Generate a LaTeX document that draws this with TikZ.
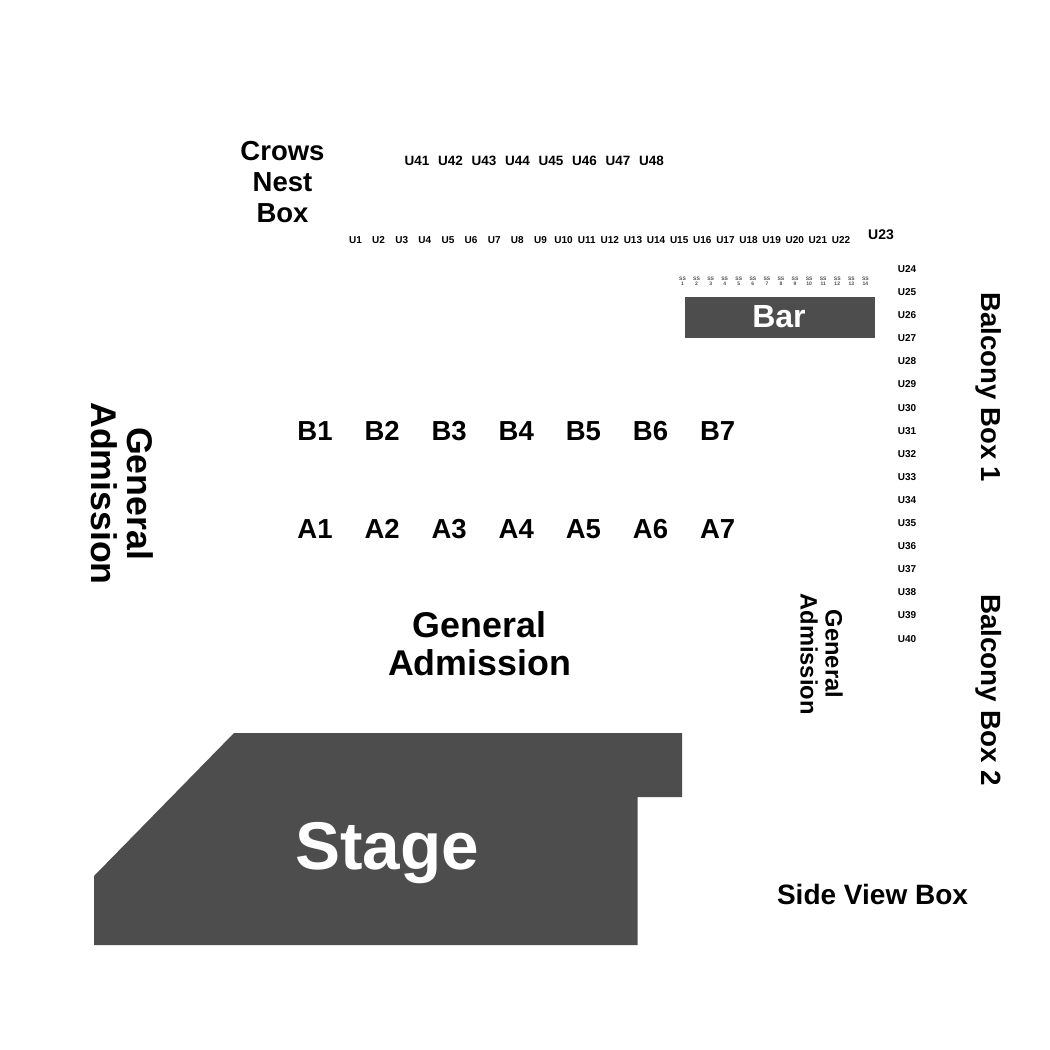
\documentclass[tikz,border=0pt]{standalone}
\usepackage{fontspec}
\setmainfont{Liberation Sans}
\definecolor{blk}{HTML}{4D4D4D}
\newcommand{\tx}[1]{\fontsize{#1}{#1}\selectfont\bfseries}
\newcommand{\txl}[2]{\fontsize{#1}{#2}\selectfont\bfseries}
\tikzset{
  lab/.style={inner sep=0pt,text=black,align=center},
  fill block/.style={fill=blk,draw=none}
}
\begin{document}
\begin{tikzpicture}[x=1pt,y=-1pt]
\useasboundingbox (0,0) rectangle (1050,1050);
\fill[white] (0,0) rectangle (1050,1050);
\fill[fill block] (234,733) -- (682,733) -- (682,797) -- (637.5,797) -- (637.5,945) -- (94,945) -- (94,876) -- cycle;
\fill[fill block] (685,297) rectangle (875,338);
\node[lab,text=white] (stage) at (387,853) {\tx{67.5}Stage};
\node[lab,text=white] (bar) at (779,317) {\tx{32}Bar};
\node[lab,font=\txl{27.5}{31}] (crows) at (282.5,182) {Crows\\Nest\\Box};
\foreach \n [count=\i from 0] in {41,...,48}
  \node[lab] (u\n) at ({417+\i*33.5},161) {\tx{13.5}U\n};
\foreach \n [count=\i from 0] in {1,...,22}
  \node[lab] (u\n) at ({355.5+\i*23.12},240) {\tx{10}U\n};
\node[lab] (u23) at (881,234.5) {\tx{14}U23};
\foreach \n [count=\i from 0] in {24,...,40}
  \node[lab] (u\n) at (907,{269+\i*23.1}) {\tx{10}U\n};
\foreach \n [count=\i from 0] in {1,...,14}
  \node[lab,font=\txl{5}{4.8},text=black!70] (s\n) at ({682.5+\i*14.07},281) {SS\\\n};
\foreach \n [count=\i from 0] in {1,...,7}{
  \node[lab] (b\n) at ({315+\i*67.1},431) {\tx{27.5}B\n};
  \node[lab] (a\n) at ({315+\i*67.1},529) {\tx{27.5}A\n};
}
\node[lab,font=\txl{35.8}{38}] (ga1) at (479.5,643.5) {General\\Admission};
\node[lab,rotate=-90,font=\txl{35.7}{36}] (ga2) at (122.5,493.5) {General\\Admission};
\node[lab,rotate=-90,font=\txl{23.7}{25}] (ga3) at (821.5,654) {General\\Admission};
\node[lab,rotate=-90] (bb1) at (989,387.5) {\tx{27.5}Balcony Box 1};
\node[lab,rotate=-90] (bb2) at (989,690) {\tx{27.8}Balcony Box 2};
\node[lab] (svb) at (872.5,894.5) {\tx{28}Side View Box};
\end{tikzpicture}
\end{document}
